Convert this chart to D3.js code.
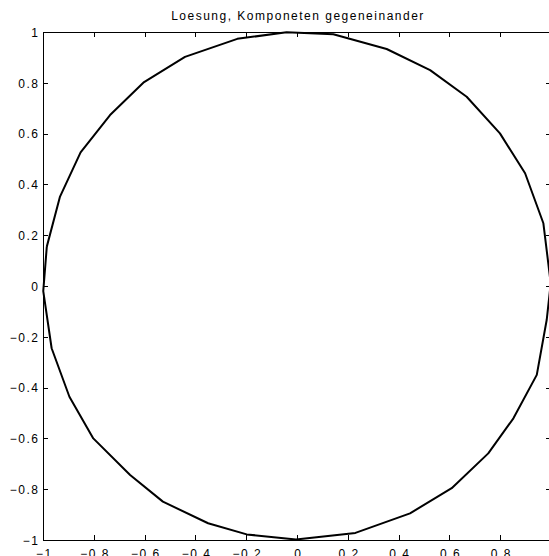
<!DOCTYPE html>
<html>
<head>
<meta charset="utf-8">
<script src="https://cdn.jsdelivr.net/npm/d3@7"></script>
<style>
  html, body { margin: 0; padding: 0; background: #fff; }
  svg { display: block; }
  text { font-family: "Liberation Sans", Arial, Helvetica, sans-serif; fill: #000; }
</style>
</head>
<body>
<svg id="chart" width="549" height="556"></svg>
<script>
// Solution trajectory: first component (x) against second component (y)
const xValues = [
  -0.985, -0.933, -0.852, -0.736, -0.602, -0.441, -0.235, -0.041, 0.143, 0.353,
   0.524,  0.668,  0.799,  0.898,  0.970,  0.999,  0.983,  0.944, 0.852, 0.753,
   0.609,  0.445,  0.230, -0.004, -0.198, -0.350, -0.528, -0.657, -0.802, -0.896,
  -0.966, -0.999, -0.985
];
const yValues = [
   0.155,  0.352,  0.526,  0.673,  0.803,  0.902,  0.973,  0.999, 0.991, 0.933,
   0.850,  0.745,  0.601,  0.444,  0.247,  0.010, -0.134, -0.350, -0.521, -0.659,
  -0.796, -0.895, -0.972, -0.998, -0.978, -0.934, -0.849, -0.744, -0.600, -0.436,
  -0.245, -0.020,  0.155
];
const xTicks = [-1, -0.8, -0.6, -0.4, -0.2, 0, 0.2, 0.4, 0.6, 0.8, 1];
const yTicks = [-1, -0.8, -0.6, -0.4, -0.2, 0, 0.2, 0.4, 0.6, 0.8, 1];
const titleText = "Loesung, Komponeten gegeneinander";

const svg = d3.select("#chart");
const plotLeft = 43, plotRight = 551, plotTop = 32, plotBottom = 540;

const x = d3.scaleLinear().domain([-1, 1]).range([plotLeft, plotRight]);
const y = d3.scaleLinear().domain([-1, 1]).range([plotBottom, plotTop]);
const fmt = v => (v === 0 ? "0" : d3.format("")(v)).replace("-", "\u2212");
const labelStyle = s => s.attr("font-size", "12px").attr("letter-spacing", "1.5px");

// Axes on all four sides, ticks pointing inward
const tickLen = 5;
const axBottom = d3.axisBottom(x).tickValues(xTicks).tickSizeInner(-tickLen).tickSizeOuter(0).tickFormat(fmt).tickPadding(0);
const axTop = d3.axisTop(x).tickValues(xTicks).tickSizeInner(-tickLen).tickSizeOuter(0).tickFormat("");
const axLeft = d3.axisLeft(y).tickValues(yTicks).tickSizeInner(-tickLen).tickSizeOuter(0).tickFormat(fmt).tickPadding(0);
const axRight = d3.axisRight(y).tickValues(yTicks).tickSizeInner(-tickLen).tickSizeOuter(0).tickFormat("");

function styleAxis(g) {
  g.attr("font-family", null).attr("font-size", null);
  g.select(".domain").attr("stroke", "#000").attr("stroke-width", 1).attr("shape-rendering", "crispEdges");
  g.selectAll(".tick line").attr("stroke", "#000").attr("stroke-width", 1).attr("shape-rendering", "crispEdges");
}

const gB = svg.append("g").attr("transform", `translate(0,${plotBottom})`).call(axBottom).call(styleAxis);
gB.selectAll(".tick text").call(labelStyle).attr("y", 17.5).attr("dy", null).attr("dx", "0.75px");
svg.append("g").attr("transform", `translate(0,${plotTop})`).call(axTop).call(styleAxis);
const gL = svg.append("g").attr("transform", `translate(${plotLeft},0)`).call(axLeft).call(styleAxis);
gL.selectAll(".tick text").call(labelStyle).attr("x", -3.5).attr("dy", "0.36em");
svg.append("g").attr("transform", `translate(${plotRight},0)`).call(axRight).call(styleAxis);

// Trajectory
const pts = xValues.map((v, i) => [v, yValues[i]]);
const line = d3.line().x(d => x(d[0])).y(d => y(d[1]));
svg.append("path")
  .datum(pts)
  .attr("d", line)
  .attr("fill", "none")
  .attr("stroke", "#000")
  .attr("stroke-width", 2)
  .attr("stroke-linejoin", "round");

// Title
svg.append("text")
  .attr("x", (plotLeft + plotRight) / 2 + 1)
  .attr("y", 20)
  .attr("text-anchor", "middle")
  .call(labelStyle)
  .text(titleText);
</script>
</body>
</html>
